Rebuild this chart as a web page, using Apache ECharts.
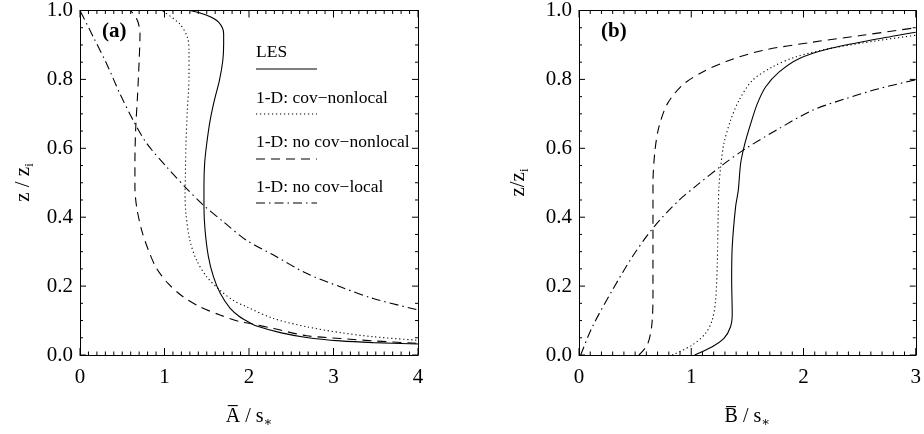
<!DOCTYPE html>
<html>
<head>
<meta charset="utf-8">
<script src="https://cdn.jsdelivr.net/npm/echarts@6/dist/echarts.min.js"></script>
<style>
  html, body { margin: 0; padding: 0; background: #fff; }
  #chart { width: 924px; height: 434px; }
</style>
</head>
<body>
<div id="chart"></div>
<script>
// Profiles against height z/zi; every pair is [value / s*, z/zi].
// Panel (a): A / s*
const lesA = [[4.0,0.032],[3.47,0.036],[3.08,0.041],[2.68,0.051],[2.37,0.065],[2.09,0.084],[2.01,0.094],
  [1.89,0.111],[1.775,0.136],[1.66,0.179],[1.58,0.227],[1.52,0.285],[1.48,0.362],[1.467,0.43],[1.467,0.49],
  [1.475,0.556],[1.50,0.614],[1.54,0.681],[1.59,0.739],[1.65,0.797],[1.69,0.855],[1.70,0.903],[1.70,0.932],
  [1.64,0.966],[1.50,0.986],[1.30,1.0]];
const covNonlocalA = [[3.98,0.043],[3.47,0.053],[3.08,0.065],[2.68,0.082],[2.29,0.106],[1.97,0.14],[1.81,0.159],
  [1.657,0.188],[1.50,0.227],[1.38,0.275],[1.30,0.333],[1.254,0.41],[1.243,0.469],[1.247,0.517],[1.254,0.614],
  [1.27,0.71],[1.29,0.807],[1.29,0.884],[1.27,0.923],[1.18,0.961],[0.97,1.0]];
const noCovNonlocalA = [[3.98,0.034],[3.47,0.041],[3.08,0.048],[2.68,0.056],[2.29,0.077],[2.0,0.092],[1.89,0.097],
  [1.657,0.116],[1.42,0.14],[1.22,0.169],[1.045,0.207],[0.907,0.251],[0.81,0.304],[0.73,0.362],[0.67,0.43],
  [0.65,0.488],[0.65,0.565],[0.66,0.662],[0.68,0.749],[0.70,0.855],[0.71,0.932],[0.68,0.971],[0.60,1.0]];
const noCovLocalA = [[3.98,0.132],[3.47,0.164],[3.08,0.198],[2.68,0.237],[2.29,0.29],[1.97,0.333],[1.70,0.386],
  [1.46,0.435],[1.262,0.483],[1.026,0.546],[0.79,0.614],[0.63,0.681],[0.473,0.758],[0.316,0.845],[0.158,0.923],
  [0.0,1.0]];

// Panel (b): B / s*
const lesB = [[1.03,0.0],[1.187,0.024],[1.291,0.048],[1.35,0.082],[1.365,0.12],[1.36,0.217],[1.365,0.314],
  [1.395,0.43],[1.419,0.478],[1.44,0.556],[1.478,0.614],[1.529,0.671],[1.588,0.729],[1.662,0.778],[1.781,0.821],
  [1.959,0.86],[2.226,0.889],[2.67,0.918],[3.0,0.937]];
const covNonlocalB = [[0.83,0.0],[1.01,0.029],[1.128,0.063],[1.187,0.101],[1.217,0.159],[1.232,0.266],[1.24,0.41],
  [1.247,0.488],[1.262,0.546],[1.291,0.614],[1.35,0.681],[1.425,0.739],[1.544,0.797],[1.722,0.836],[1.929,0.865],
  [2.226,0.889],[2.67,0.913],[3.0,0.928]];
const noCovNonlocalB = [[0.534,0.0],[0.608,0.029],[0.647,0.082],[0.659,0.169],[0.659,0.314],[0.659,0.498],
  [0.677,0.594],[0.712,0.662],[0.787,0.729],[0.92,0.783],[1.098,0.821],[1.336,0.855],[1.633,0.884],[2.078,0.908],
  [2.523,0.928],[3.0,0.95]];
const noCovLocalB = [[0.015,0.0],[0.119,0.082],[0.297,0.188],[0.475,0.285],[0.668,0.372],[0.89,0.449],[1.04,0.49],
  [1.276,0.551],[1.484,0.599],[1.781,0.657],[2.078,0.71],[2.375,0.744],[2.67,0.773],[3.0,0.799]];

const seriesNames = ['LES', '1-D: cov\u2212nonlocal', '1-D: no cov\u2212nonlocal', '1-D: no cov\u2212local'];
const panelLabels = ['(a)', '(b)'];
const xTitles = ['{m|A\u0305 / s}{s|\u2217}', '{m|B\u0305 / s}{s|\u2217}'];
const yTitles = ['{m|z / z}{s|i}', '{m|z/z}{s|i}'];
const xMaxes = [4, 3];

const FONT = '"Liberation Serif", "Times New Roman", "DejaVu Serif", serif';
const INK = '#000';

// line dash patterns, one per model run
const dashes = ['solid', [1.2, 2.8], [9, 6], [9, 4, 1.5, 4]];

const grids = [
  { left: 80, top: 10, width: 338, height: 345 },
  { left: 579, top: 10, width: 337, height: 345 }
];

const titleRich = {
  m: { fontSize: 21, fontFamily: FONT, color: INK, fill: INK, lineHeight: 26 },
  s: { fontSize: 13, fontFamily: FONT, color: INK, fill: INK, lineHeight: 13, verticalAlign: 'bottom' }
};

function xAxes(gi, max, name) {
  const common = {
    type: 'value', gridIndex: gi, min: 0, max: max, interval: 1,
    axisLine: { show: true, onZero: false, lineStyle: { color: INK, width: 1 } },
    axisTick: { show: false }, minorTick: { show: false },
    splitLine: { show: false }, minorSplitLine: { show: false }
  };
  return [
    Object.assign({}, common, {
      position: 'bottom',
      axisLabel: { show: true, margin: 12, color: INK, fontFamily: FONT, fontSize: 21 },
      name: name, nameLocation: 'middle', nameGap: 50,
      nameTextStyle: {
        color: INK, fontFamily: FONT,
        rich: {
          m: { fontSize: 20, fontFamily: FONT, color: INK, lineHeight: 24 },
          s: { fontSize: 13, fontFamily: FONT, color: INK, lineHeight: 13, verticalAlign: 'bottom' }
        }
      }
    }),
    Object.assign({}, common, { position: 'top', axisLabel: { show: false } })
  ];
}

function yAxes(gi) {
  const common = {
    type: 'value', gridIndex: gi, min: 0, max: 1, interval: 0.2,
    axisLine: { show: true, onZero: false, lineStyle: { color: INK, width: 1 } },
    axisTick: { show: false }, minorTick: { show: false },
    splitLine: { show: false }, minorSplitLine: { show: false }
  };
  return [
    Object.assign({}, common, {
      position: 'left',
      axisLabel: { show: true, margin: 7, color: INK, fontFamily: FONT, fontSize: 21,
        formatter: v => Number(v).toFixed(1) }
    }),
    Object.assign({}, common, { position: 'right', axisLabel: { show: false } })
  ];
}

function profile(name, data, dash, axisBase) {
  return {
    type: 'line', name: name, data: data,
    xAxisIndex: axisBase, yAxisIndex: axisBase,
    showSymbol: false, smooth: 0.3,
    lineStyle: { color: INK, width: 1.1, type: dash }
  };
}

// inward tick marks on all four sides of a frame: [value, isMajor]
function tickValues(max, step, majorEvery) {
  const out = [];
  const n = Math.round(max / step);
  for (let k = 0; k <= n; k++) out.push([+(k * step).toFixed(3), k % majorEvery === 0 ? 1 : 0]);
  return out;
}
function tickSeries(axisBase, xMax, kind) {
  const data = kind === 'x' ? tickValues(xMax, 0.1, 10) : tickValues(1, 0.05, 4);
  return {
    type: 'custom', xAxisIndex: axisBase, yAxisIndex: axisBase,
    silent: true, clip: false, z: 1, data: data,
    renderItem: function (params, api) {
      const v = api.value(0);
      const major = api.value(1) === 1;
      const st = { stroke: INK, lineWidth: 1 };
      if (kind === 'x') {
        const a = api.coord([v, 0]);
        const b = api.coord([v, 1]);
        const len = major ? 7 : 3.5;
        return { type: 'group', children: [
          { type: 'line', shape: { x1: a[0], y1: a[1], x2: a[0], y2: a[1] - len }, style: st },
          { type: 'line', shape: { x1: b[0], y1: b[1], x2: b[0], y2: b[1] + len }, style: st }
        ] };
      }
      const a = api.coord([0, v]);
      const b = api.coord([xMax, v]);
      const len = major ? 6 : 3;
      return { type: 'group', children: [
        { type: 'line', shape: { x1: a[0], y1: a[1], x2: a[0] + len, y2: a[1] }, style: st },
        { type: 'line', shape: { x1: b[0], y1: b[1], x2: b[0] - len, y2: b[1] }, style: st }
      ] };
    }
  };
}

const panelA = [lesA, covNonlocalA, noCovNonlocalA, noCovLocalA];
const panelB = [lesB, covNonlocalB, noCovNonlocalB, noCovLocalB];

const series = [];
panelA.forEach((d, i) => series.push(profile(seriesNames[i], d, dashes[i], 0)));
panelB.forEach((d, i) => series.push(profile(seriesNames[i], d, dashes[i], 2)));
series.push(tickSeries(0, xMaxes[0], 'x'), tickSeries(0, xMaxes[0], 'y'));
series.push(tickSeries(2, xMaxes[1], 'x'), tickSeries(2, xMaxes[1], 'y'));

// key drawn inside panel (a): label above a short sample of each line
const keyLeft = 256, keyRight = 317;
const keyTextY = [53, 99, 143, 188];
const keyLineY = [69, 114, 159, 203];
const extras = [];
seriesNames.forEach((n, i) => {
  extras.push({
    type: 'text', left: keyLeft, top: keyTextY[i] - 10,
    style: { text: n, fill: INK, font: '17.5px ' + FONT }
  });
  extras.push({
    type: 'line', shape: { x1: keyLeft, y1: keyLineY[i], x2: keyRight, y2: keyLineY[i] },
    style: { stroke: INK, lineWidth: 1.1, lineDash: dashes[i] === 'solid' ? null : dashes[i] }
  });
});
// panel tags and rotated height titles
const yTitleX = [23, 518];
panelLabels.forEach((t, i) => {
  extras.push({
    type: 'text', left: grids[i].left + 22, top: 21,
    style: { text: t, fill: INK, font: 'bold 21px ' + FONT }
  });
  extras.push({
    type: 'text', x: yTitleX[i], y: grids[i].top + grids[i].height / 2, rotation: Math.PI / 2,
    style: { text: yTitles[i], rich: titleRich, fill: INK, align: 'center', verticalAlign: 'middle',
      font: '21px ' + FONT }
  });
});

const chart = echarts.init(document.getElementById('chart'), null, { renderer: 'canvas' });
chart.setOption({
  animation: false,
  grid: grids,
  xAxis: [].concat(xAxes(0, xMaxes[0], xTitles[0]), xAxes(1, xMaxes[1], xTitles[1])),
  yAxis: [].concat(yAxes(0), yAxes(1)),
  series: series,
  graphic: extras
});
</script>
</body>
</html>
